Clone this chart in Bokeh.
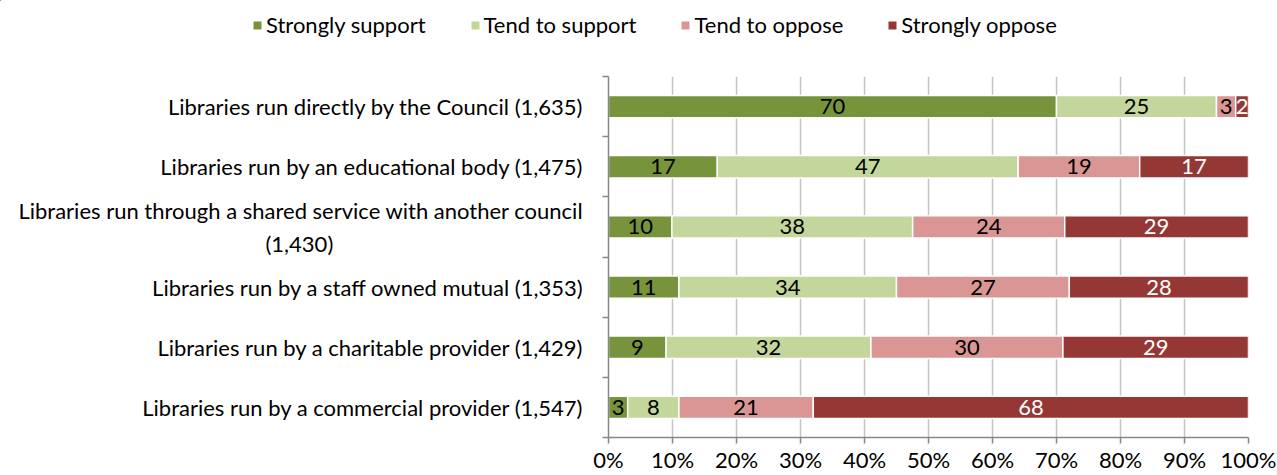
from bokeh.plotting import figure
from bokeh.models import ColumnDataSource, FixedTicker, Legend, LegendItem
from bokeh.core.properties import value
from bokeh.embed import file_html
from bokeh.resources import INLINE

categories = [
    "Libraries run directly by the Council (1,635)",
    "Libraries run by an educational body (1,475)",
    "Libraries run through a shared service with another council\n(1,430)",
    "Libraries run by a staff owned mutual (1,353)",
    "Libraries run by a charitable provider (1,429)",
    "Libraries run by a commercial provider (1,547)",
]
series_names = ["Strongly support", "Tend to support", "Tend to oppose", "Strongly oppose"]
strongly_support = [70, 17, 10, 11, 9, 3]
tend_support = [25, 47, 38, 34, 32, 8]
tend_oppose = [3, 19, 24, 27, 30, 21]
strongly_oppose = [2, 17, 29, 28, 29, 68]
x_ticks = [0, 10, 20, 30, 40, 50, 60, 70, 80, 90, 100]
x_tick_labels = ["0%", "10%", "20%", "30%", "40%", "50%", "60%", "70%", "80%", "90%", "100%"]

colors = ["#77933C", "#C3D69B", "#D99694", "#953735"]
label_colors = ["black", "black", "black", "white"]
FONT = "Lato"
FS = "22px"

series = [strongly_support, tend_support, tend_oppose, strongly_oppose]
n = len(categories)
ys = [n - 0.5 - i for i in range(n)]


def centred_wrap(label):
    # pad the short second line so it sits centred under the first line
    parts = label.split("\n")
    if len(parts) == 2:
        return parts[0] + "\n" + parts[1] + "\u2003" * 15 + "\u2009"
    return label


# ---- main chart ----
p = figure(width=1277, height=425, x_range=(0, 100), y_range=(0, n),
           output_backend="svg", toolbar_location=None,
           min_border_left=608, min_border_right=29, min_border_top=26, min_border_bottom=38)
p.outline_line_color = None
p.background_fill_color = "white"

p.ygrid.grid_line_color = None
p.xgrid.ticker = FixedTicker(ticks=x_ticks)
p.xgrid.grid_line_color = "#c4c4c4"
p.xgrid.grid_line_width = 1.5

# ---- legend strip (separate root so it is not clipped by the chart frame) ----
# its ranges lie well away from the data, so only the legend keys are drawn
leg = figure(width=1277, height=50, x_range=(200, 201), y_range=(-3, -2),
             x_axis_type=None, y_axis_type=None, output_backend="svg",
             toolbar_location=None, min_border=0)
leg.outline_line_color = None
leg.grid.visible = False

totals = [sum(s[i] for s in series) for i in range(n)]
lefts = [0.0] * n
legend_items = []
for k, s in enumerate(series):
    rights = [lefts[i] + s[i] / totals[i] * 100 for i in range(n)]
    src = ColumnDataSource(dict(y=ys, left=lefts, right=rights,
                                xc=[(lefts[i] + rights[i]) / 2 for i in range(n)],
                                lab=[str(v) for v in s]))
    p.hbar(y="y", left="left", right="right", height=0.37, source=src,
           fill_color=colors[k], line_color="white", line_width=1.5)
    p.text(x="xc", y="y", text="lab", source=src, text_align="center",
           text_baseline="middle", text_font=value(FONT), text_font_size=FS,
           text_color=label_colors[k])
    lr = leg.hbar(y="y", left="left", right="right", height=0, source=src,
                  fill_color=colors[k], line_color=None)
    legend_items.append(LegendItem(label=series_names[k], renderers=[lr]))
    lefts = rights

legend = Legend(items=legend_items, orientation="horizontal", location=(252, 12),
                glyph_width=10, glyph_height=10, label_standoff=4, spacing=44,
                padding=0, margin=0, border_line_color=None, background_fill_alpha=0,
                label_text_font=FONT, label_text_font_size=FS, label_text_color="black",
                label_height=20)
leg.add_layout(legend, "center")

xa = p.xaxis[0]
xa.ticker = FixedTicker(ticks=x_ticks)
xa.major_label_overrides = {t: l for t, l in zip(x_ticks, x_tick_labels)}
xa.axis_line_color = "#868686"
xa.axis_line_width = 1.5
xa.major_tick_line_color = "#868686"
xa.major_tick_line_width = 1.5
xa.major_tick_out = 6
xa.major_tick_in = 0
xa.minor_tick_line_color = None
xa.major_label_text_font = FONT
xa.major_label_text_font_size = FS
xa.major_label_text_color = "black"
xa.major_label_standoff = 2

ya = p.yaxis[0]
ya.ticker = FixedTicker(ticks=ys, minor_ticks=list(range(n + 1)))
ya.major_label_overrides = {y: centred_wrap(c) for y, c in zip(ys, categories)}
ya.axis_line_color = "#868686"
ya.axis_line_width = 1.5
ya.major_tick_out = 0
ya.major_tick_in = 0
ya.minor_tick_line_color = "#868686"
ya.minor_tick_line_width = 1.5
ya.minor_tick_out = 6
ya.minor_tick_in = 0
ya.major_label_text_font = FONT
ya.major_label_text_font_size = FS
ya.major_label_text_color = "black"
ya.major_label_standoff = 19

open("out.html", "w").write(file_html([leg, p], INLINE))
